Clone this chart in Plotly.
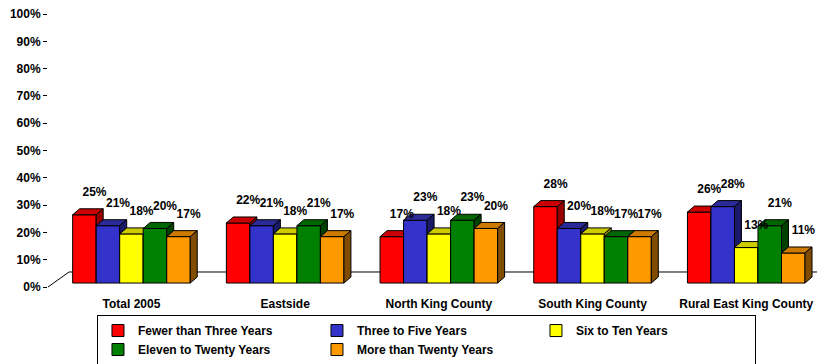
import plotly.graph_objects as go

categories = ['Total 2005', 'Eastside', 'North King County', 'South King County', 'Rural East King County']
series_names = ['Fewer than Three Years', 'Three to Five Years', 'Six to Ten Years',
                'Eleven to Twenty Years', 'More than Twenty Years']
fewer_than_three = [25, 22, 17, 28, 26]
three_to_five = [21, 21, 23, 20, 28]
six_to_ten = [18, 18, 18, 18, 13]
eleven_to_twenty = [20, 21, 23, 17, 21]
more_than_twenty = [17, 17, 20, 17, 11]
series_values = [fewer_than_three, three_to_five, six_to_ten, eleven_to_twenty, more_than_twenty]

front_colors = ['#FF0000', '#3333CC', '#FFFF00', '#008000', '#FF9900']
top_colors = ['#CC0000', '#2A2A99', '#CCCC00', '#006600', '#CC7A00']
side_colors = ['#990000', '#1A1A66', '#999900', '#004000', '#7F4C00']

# fake 3d look
bar_w = 0.153
depth_x = 0.0455
depth_y = 2.2
floor = 1.45


def faces(centers, values):
    tops_x, tops_y, sides_x, sides_y = [], [], [], []
    for c, v in zip(centers, values):
        x0, x1, top = c - bar_w / 2, c + bar_w / 2, floor + v
        tops_x += [x0, x0 + depth_x, x1 + depth_x, x1, x0, None]
        tops_y += [top, top + depth_y, top + depth_y, top, top, None]
        sides_x += [x1, x1, x1 + depth_x, x1 + depth_x, x1, None]
        sides_y += [floor, top, top + depth_y, floor + depth_y, floor, None]
    return tops_x, tops_y, sides_x, sides_y


fig = go.Figure()
label_x, label_y, label_text = [], [], []
for j, (name, vals) in enumerate(zip(series_names, series_values)):
    centers = [i + (j - 2) * bar_w for i in range(len(categories))]
    fig.add_trace(go.Bar(
        x=centers, y=vals, base=floor, width=bar_w, name=name,
        marker=dict(color=front_colors[j], line=dict(color='black', width=1)),
        zorder=2 * j, hoverinfo='skip'
    ))
    tx, ty, sx, sy = faces(centers, vals)
    fig.add_trace(go.Scatter(x=tx, y=ty, mode='lines', fill='toself', fillcolor=top_colors[j],
                             line=dict(color='black', width=1), showlegend=False,
                             hoverinfo='skip', zorder=2 * j + 1))
    fig.add_trace(go.Scatter(x=sx, y=sy, mode='lines', fill='toself', fillcolor=side_colors[j],
                             line=dict(color='black', width=1), showlegend=False,
                             hoverinfo='skip', zorder=2 * j + 1))
    for c, v in zip(centers, vals):
        label_x.append(c + depth_x + 0.02)
        label_y.append(floor + v + depth_y + 5.8)
        label_text.append(f'{v}%')

fig.add_trace(go.Scatter(x=label_x, y=label_y, text=label_text, mode='text',
                         textfont=dict(size=12, color='black'), showlegend=False,
                         hoverinfo='skip', zorder=20))

# floor of the 3d box
floor_line = dict(color='black', width=1)
fig.add_shape(type='line', xref='paper', yref='paper', x0=0, y0=0, x1=0.0273, y1=0.055,
              line=floor_line, layer='below')
fig.add_shape(type='line', xref='paper', yref='paper', x0=0.0273, y0=0.055, x1=1.03, y1=0.055,
              line=floor_line, layer='below')
fig.add_shape(type='line', xref='paper', yref='paper', x0=1.0, y0=0, x1=1.0273, y1=0.055,
              line=floor_line, layer='below')

# the page adds an 8px body margin, so the figure is a bit smaller
fig.update_layout(
    width=817, height=356,
    margin=dict(l=40, r=7, t=6, b=77, autoexpand=False),
    paper_bgcolor='white', plot_bgcolor='white',
    font=dict(family='Liberation Sans, Arial, sans-serif', size=12, color='black', weight='bold'),
    barmode='overlay',
    xaxis=dict(range=[-0.543, 4.467], tickvals=list(range(len(categories))), ticktext=categories,
               showline=True, linecolor='black', linewidth=1, ticks='', showgrid=False,
               zeroline=False, ticklabelstandoff=6, automargin=False),
    yaxis=dict(range=[0, 100], dtick=10, ticksuffix='%', ticks='outside', ticklen=4,
               tickcolor='black', showline=True, linecolor='black', linewidth=1,
               showgrid=False, zeroline=False, automargin=False, ticklabeloverflow='allow'),
    legend=dict(orientation='h', x=0.0636, y=-0.1027, xanchor='left', yanchor='top',
                bgcolor='white', bordercolor='black', borderwidth=1,
                entrywidth=174, itemwidth=30, font=dict(size=12), tracegroupgap=0),
    showlegend=True,
)

fig.write_html('out.html')
